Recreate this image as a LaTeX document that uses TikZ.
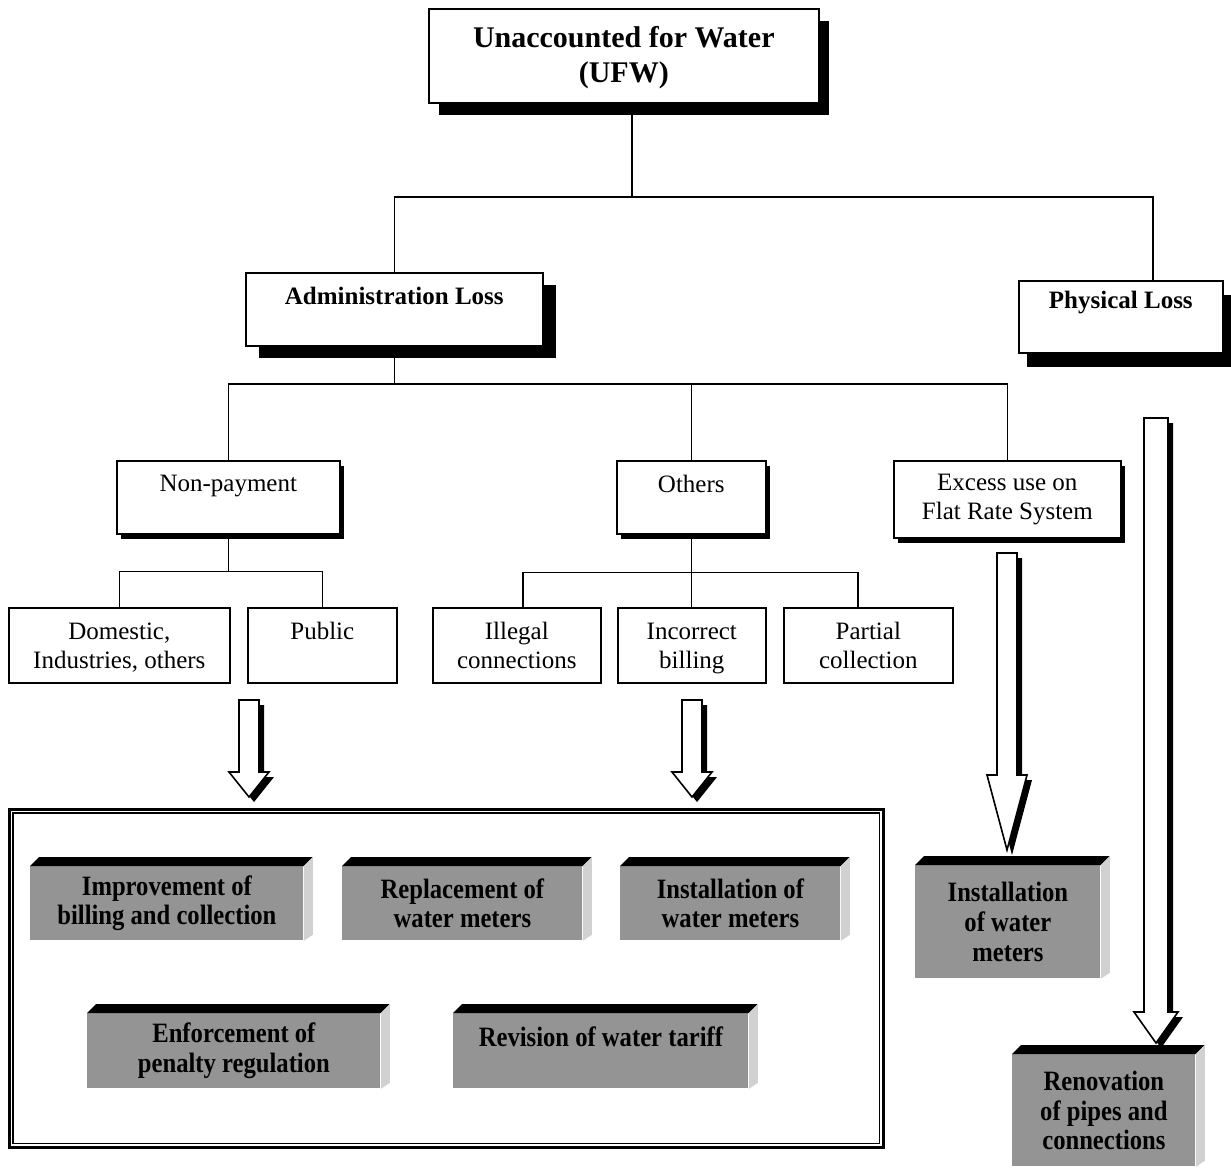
\documentclass[tikz,border=0pt]{standalone}
\usepackage{fontspec}
\setmainfont{Liberation Serif}
\newfontfamily\grayfont[FakeStretch=0.88]{Liberation Serif}
\usetikzlibrary{shadows,calc}
\tikzset{
  box/.style={draw, line width=0.8pt, fill=white, inner sep=0pt, align=center, anchor=north west},
  shdA/.style={drop shadow={shadow xshift=5pt, shadow yshift=-6pt, opacity=1, fill=black}},
  shdB/.style={drop shadow={shadow xshift=6.5pt, shadow yshift=-6pt, opacity=1, fill=black}},
  shdC/.style={drop shadow={shadow xshift=4pt, shadow yshift=-7pt, opacity=1, fill=black}},
  shdD/.style={drop shadow={shadow xshift=2pt, shadow yshift=-2.5pt, opacity=1, fill=black}},
  regtext/.style={font=\fontsize{12.5}{14.5}\selectfont},
  boldtext/.style={font=\fontsize{12.5}{15}\selectfont\bfseries},
  toptext/.style={font=\fontsize{15}{17.5}\selectfont\bfseries},
  gbox/.style={fill=black!42, inner sep=0pt, align=center, anchor=north west, font=\grayfont\bfseries\fontsize{14}{14.8}\selectfont},
  conn/.style={line width=0.8pt}}
\begin{document}
\begin{tikzpicture}[x=0.5pt,y=-0.5pt]
\useasboundingbox[fill=white] (0,0) rectangle (1231,1169);

% level 0 and 1
\node[box, minimum width=195pt, minimum height=47pt, shdA, toptext] (ufw) at (428,8) {\strut Unaccounted for Water\\(UFW)};
\node[box, minimum width=148.5pt, minimum height=36.5pt, shdB, boldtext] (adm) at (245,272) {Administration Loss\\[-6pt]\strut};
\node[box, minimum width=102pt, minimum height=36pt, shdC, boldtext] (phy) at (1018,280) {Physical Loss\\[-3pt]\strut};

% level 2
\node[box, minimum width=111.5pt, minimum height=36.5pt, shdD, regtext] (nonpay) at (116,460) {Non-payment\\[-5pt]\strut};
\node[box, minimum width=74.5pt, minimum height=36.5pt, shdD, regtext] (others) at (616,460) {Others\\[-5pt]\strut};
\node[box, minimum width=113.5pt, minimum height=38.5pt, shdD, regtext] (excess) at (893,460) {Excess use on\\Flat Rate System};

% level 3
\node[box, minimum width=110.5pt, minimum height=37.5pt, regtext] (dom) at (8,607) {\rule{0pt}{13.2pt}Domestic,\\Industries, others\strut};
\node[box, minimum width=74.5pt, minimum height=37.5pt, regtext] (pub) at (247,607) {\rule{0pt}{13.2pt}Public\\\strut};
\node[box, minimum width=84pt, minimum height=37.5pt, regtext] (ill) at (432,607) {\rule{0pt}{13.2pt}Illegal\\connections\strut};
\node[box, minimum width=74pt, minimum height=37.5pt, regtext] (inc) at (617,607) {\rule{0pt}{13.2pt}Incorrect\\billing\strut};
\node[box, minimum width=84.5pt, minimum height=37.5pt, regtext] (par) at (783,607) {\rule{0pt}{13.2pt}Partial\\collection\strut};

% connectors
\coordinate (bus1) at (632,197);
\coordinate (bus2) at (393.5,384);
\draw[conn] ([xshift=102pt]ufw.south west) -- (bus1);
\draw[conn] (adm.north) |- (bus1) -| ([xshift=67.5pt]phy.north west);
\draw[conn] (adm.south) -- (adm.south |- bus2);
\draw[conn] (nonpay.north) |- (bus2) -| (excess.north);
\draw[conn] (others.north) -- (others.north |- bus2);
\draw[conn] (nonpay.south) -- ++(0,37) coordinate (bus3);
\draw[conn] (dom.north) |- (bus3) -| (pub.north);
\draw[conn] (others.south) -- ++(0,38) coordinate (bus4);
\draw[conn] ([xshift=45.5pt]ill.north west) |- (bus4) -| ([xshift=37.5pt]par.north west);
\draw[conn] (bus4) -- (bus4 |- inc.north);

% block arrows: cx/top/headstart/tip/halfshaft/halfhead
\foreach \cx/\ty/\hy/\tp/\hs/\hh in {249/700/772/797/10/20, 692/700/772/797/10/20, 1007/553/775/850/10/20, 1156/418/1012/1043/12/22}{
  \fill[black, xshift=2.5pt, yshift=-2.5pt] (\cx-\hs,\ty) -- (\cx+\hs,\ty) -- (\cx+\hs,\hy) -- (\cx+\hh,\hy) -- (\cx,\tp) -- (\cx-\hh,\hy) -- (\cx-\hs,\hy) -- cycle;
  \filldraw[fill=white, draw=black, line width=0.8pt, line join=miter] (\cx-\hs,\ty) -- (\cx+\hs,\ty) -- (\cx+\hs,\hy) -- (\cx+\hh,\hy) -- (\cx,\tp) -- (\cx-\hh,\hy) -- (\cx-\hs,\hy) -- cycle;
}

% container frame
\node[draw, line width=1.3pt, inner sep=0pt, minimum width=437pt, minimum height=169pt, anchor=north west] (frame) at (8,808) {};
\draw[line width=0.6pt] ([xshift=2.5pt,yshift=-2.5pt]frame.north west) rectangle ([xshift=-2.5pt,yshift=2.5pt]frame.south east);

% gray 3D boxes
\node[gbox, minimum width=136.5pt, minimum height=37pt] (g1) at (30,866) {Improvement of\\billing and collection};
\node[gbox, minimum width=120pt, minimum height=37pt] (g2) at (342,866) {Replacement of\\water meters};
\node[gbox, minimum width=110pt, minimum height=37pt] (g3) at (620,866) {Installation of\\water meters};
\node[gbox, minimum width=146.5pt, minimum height=37.5pt] (g4) at (87,1013) {Enforcement of\\penalty regulation};
\node[gbox, minimum width=147.5pt, minimum height=37.5pt] (g5) at (453,1013) {Revision of water tariff\\[-5pt]\strut};
\node[gbox, minimum width=92.5pt, minimum height=56.5pt] (g6) at (915,865) {Installation\\of water\\meters};
\node[gbox, minimum width=91.5pt, minimum height=56pt] (g7) at (1012,1054) {Renovation\\of pipes and\\connections};
\foreach \g in {g1,g2,g3,g4,g5,g6,g7}{
  \fill[black] (\g.north west) -- ++(9,-9) -- ($(\g.north east)+(9,-9)$) -- (\g.north east) -- cycle;
  \fill[black!18] (\g.north east) -- ++(9,-9) -- ($(\g.south east)+(9,-6)$) -- (\g.south east) -- cycle;
}
\end{tikzpicture}
\end{document}
